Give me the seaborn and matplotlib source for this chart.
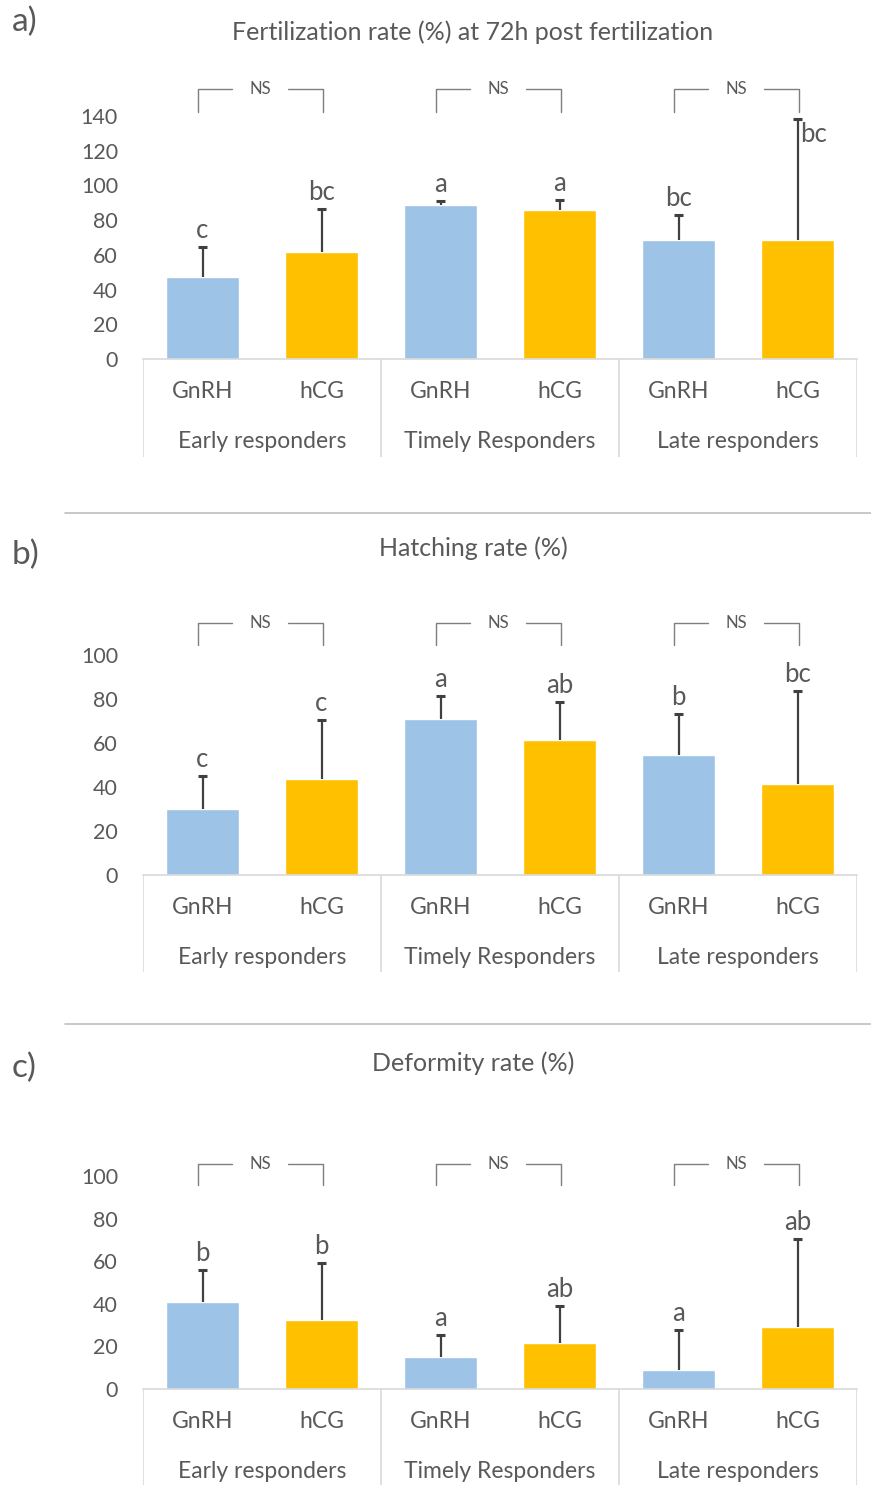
import numpy as np
import pandas as pd
import matplotlib
matplotlib.use("Agg")
import matplotlib.pyplot as plt
import seaborn as sns

groups = ["Early responders", "Timely Responders", "Late responders"]
treatments = ["GnRH", "hCG"]

# order: Early GnRH, Early hCG, Timely GnRH, Timely hCG, Late GnRH, Late hCG
fert_mean = [47, 61.5, 89, 86, 68.5, 68.5]
fert_sd = [17.5, 25, 2, 5.5, 14.5, 69.5]
fert_letters = ["c", "bc", "a", "a", "bc", "bc"]

hatch_mean = [30, 43.5, 70.8, 61.4, 54.5, 41.4]
hatch_sd = [15, 27, 10.6, 17.1, 18.5, 42.2]
hatch_letters = ["c", "c", "a", "ab", "b", "bc"]

deform_mean = [41, 32.5, 15, 21.7, 9, 29]
deform_sd = [15, 26.5, 10.5, 17.3, 18.5, 41.3]
deform_letters = ["b", "b", "a", "ab", "a", "ab"]

W, H = 871, 1485
BLUE = "#9DC3E6"
GOLD = "#FFC000"
TXT = "#595959"
GRID = "#d9d9d9"

sns.set_style("white")
plt.rcParams["font.family"] = ["Lato", "DejaVu Sans"]


def frac_rect(left, top, right, bottom):
    return [left / W, 1 - bottom / H, (right - left) / W, (bottom - top) / H]


def draw_panel(fig, mean, sd, letters, label, title, title_y, label_y,
               top_px, bottom_px, ymax, br_top, br_bot, cat_bottom):
    ax = fig.add_axes(frac_rect(143, top_px, 857, bottom_px))
    df = pd.DataFrame({
        "group": np.repeat(groups, 2),
        "treatment": treatments * 3,
        "value": mean,
    })
    sns.barplot(data=df, x="group", y="value", hue="treatment", order=groups,
                hue_order=treatments, palette=[BLUE, GOLD], width=1.0, gap=0.385,
                saturation=1, legend=False, ax=ax, errorbar=None)
    ax.set_xlim(-0.5, 2.5)
    ax.set_ylim(0, ymax)
    ax.set_yticks(np.arange(0, ymax + 1, 20))
    ax.tick_params(axis="y", length=0, pad=18, labelsize=15.5, labelcolor=TXT)
    ax.set_xticks([])
    ax.set_xlabel("")
    ax.set_ylabel("")
    for s in ["top", "right", "left"]:
        ax.spines[s].set_visible(False)
    ax.spines["bottom"].set_color(GRID)
    ax.spines["bottom"].set_linewidth(1.2)

    xs = np.array([i + d for i in range(3) for d in (-0.25, 0.25)])
    tops = np.array(mean) + np.array(sd)
    ax.vlines(xs, mean, tops, color="#404040", lw=1.6, zorder=3)
    ax.hlines(tops, xs - 0.018, xs + 0.018, color="#404040", lw=2.2, zorder=3)

    for x, t, lt in zip(xs, tops, letters):
        if t > ymax * 0.93:
            ax.annotate(lt, (x, t), xytext=(3, -3), textcoords="offset pixels",
                        ha="left", va="top", fontsize=18.5, color=TXT,
                        annotation_clip=False)
        else:
            ax.annotate(lt, (x, t), xytext=(0, 9), textcoords="offset pixels",
                        ha="center", va="baseline", fontsize=18.5, color=TXT,
                        annotation_clip=False)

    # NS brackets between treatments
    for i in range(3):
        x0, x1 = i - 0.27, i + 0.255
        xm = (x0 + x1) / 2
        kw = dict(color="#7f7f7f", lw=1, clip_on=False)
        ax.plot([x0, x0, xm - 0.12], [br_bot, br_top, br_top], **kw)
        ax.plot([xm + 0.115, x1, x1], [br_top, br_top, br_bot], **kw)
        ax.text(xm, br_top, "NS", ha="center", va="center", fontsize=12,
                color=TXT, clip_on=False)

    # two-level category axis below
    cax = fig.add_axes(frac_rect(143, bottom_px, 857, cat_bottom), sharex=ax)
    cax.set_ylim(0, 1)
    cax.axis("off")
    cax.vlines([-0.5, 0.5, 1.5, 2.5], 0, 1, color=GRID, lw=1.2)
    for i, g in enumerate(groups):
        for d, t in zip((-0.25, 0.25), treatments):
            cax.annotate(t, (i + d, 1), xycoords=("data", "axes fraction"),
                         xytext=(0, -33), textcoords="offset pixels",
                         ha="center", va="center", fontsize=16.5, color=TXT)
        cax.annotate(g, (i, 1), xycoords=("data", "axes fraction"),
                     xytext=(0, -82), textcoords="offset pixels",
                     ha="center", va="center", fontsize=16.5, color=TXT)

    fig.text(473 / W, 1 - title_y / H, title, ha="center", va="center",
             fontsize=18, color=TXT)
    fig.text(12 / W, 1 - label_y / H, label, ha="left", va="center",
             fontsize=24, color=TXT)
    return ax


fig = plt.figure(figsize=(W / 100, H / 100), dpi=100)
fig.patch.set_facecolor("white")

draw_panel(fig, fert_mean, fert_sd, fert_letters, "a)",
           "Fertilization rate (%) at 72h post fertilization", 32, 22,
           116, 359, 140, 155.5, 142.5, 457)
draw_panel(fig, hatch_mean, hatch_sd, hatch_letters, "b)",
           "Hatching rate (%)", 548, 555,
           655, 875, 100, 114.5, 104.5, 972)
draw_panel(fig, deform_mean, deform_sd, deform_letters, "c)",
           "Deformity rate (%)", 1063, 1068,
           1176, 1389, 100, 105.5, 96, 1485)

# separator lines between panels
for yy in (513, 1024):
    fig.add_artist(plt.Line2D([65 / W, 1], [1 - yy / H, 1 - yy / H],
                              color="#bfbfbf", lw=1.2))

fig.savefig("out.png", dpi=100)
